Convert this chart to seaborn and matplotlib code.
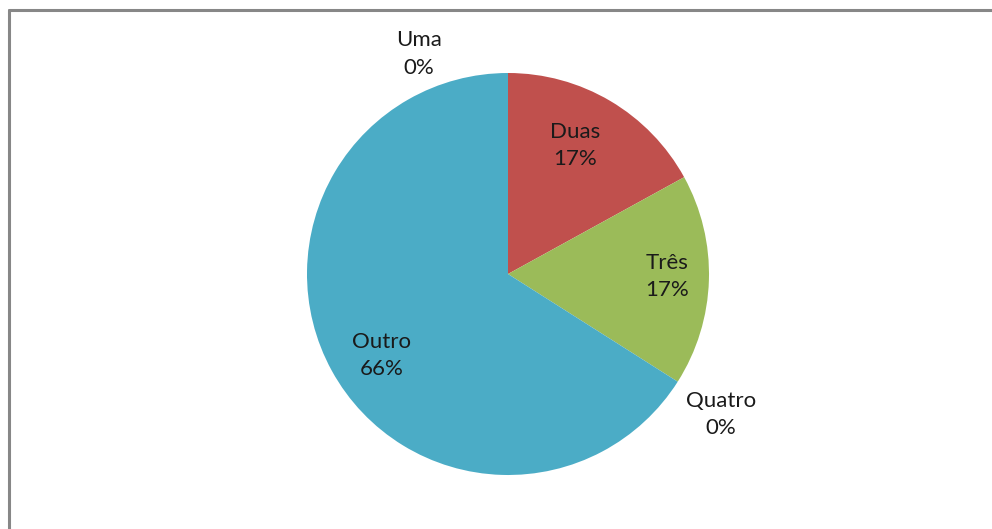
import numpy as np
import matplotlib.pyplot as plt
import seaborn as sns

sns.set_theme(style='white')
plt.rcParams['font.family'] = ['Lato', 'DejaVu Sans']

categories = ['Uma', 'Duas', 'Três', 'Quatro', 'Outro']
values = [0, 17, 17, 0, 66]
colors = sns.color_palette(['#4F81BD', '#C0504D', '#9BBB59', '#8064A2', '#4BACC6'])

# label placement (distance from centre in radii, angle shift in degrees)
label_dist = [1.18, 0.72, 0.79, 1.27, 0.75]
label_shift = [22, 3, 1, -1, 4]

fig = plt.figure(figsize=(9.92, 5.29), dpi=100)

# cropped chart-area frame, as in the original screenshot
fig.add_artist(plt.Line2D([9/992, 9/992], [0, 1 - 10/529], color='#878787', lw=2.2))
fig.add_artist(plt.Line2D([9/992, 1], [1 - 10/529, 1 - 10/529], color='#878787', lw=2.2))

ax = fig.add_axes([(508 - 201) / 992, (529 - 475) / 529, 402 / 992, 402 / 529])
wedges, _ = ax.pie(values, colors=colors, startangle=90, counterclock=False,
                   radius=1, wedgeprops=dict(linewidth=0))
ax.set_xlim(-1, 1)
ax.set_ylim(-1, 1)
ax.set_aspect('equal')
ax.axis('off')

for w, cat, v, d, s in zip(wedges, categories, values, label_dist, label_shift):
    mid = np.deg2rad((w.theta1 + w.theta2) / 2 + s)
    ax.text(d * np.cos(mid), d * np.sin(mid), f'{cat}\n{v}%', ha='center', va='center',
            fontsize=16, color='#1a1a1a', linespacing=1.45)

plt.savefig('out.png', dpi=100)
